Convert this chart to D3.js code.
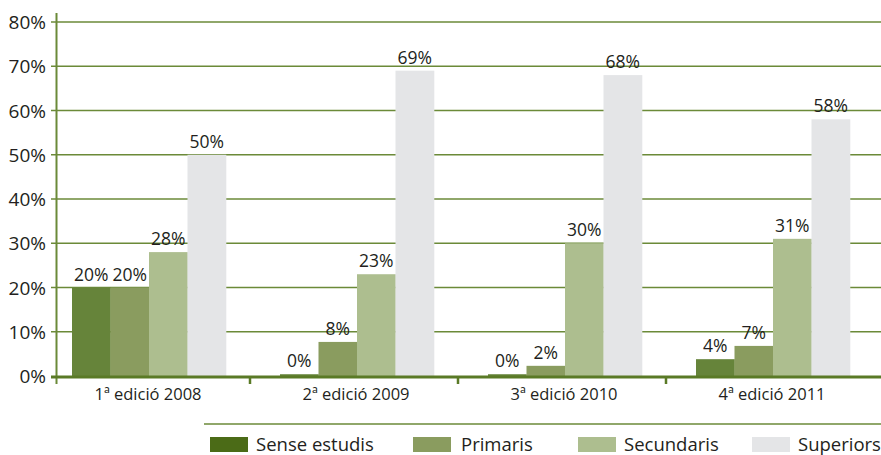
<!DOCTYPE html>
<html>
<head>
<meta charset="utf-8">
<script src="https://cdn.jsdelivr.net/npm/d3@7"></script>
<style>
  body { margin: 0; background: #fff; }
  text { font-family: "Open Sans", "Noto Sans", sans-serif; fill: #231f20; }
</style>
</head>
<body>
<div id="chart"></div>
<script>
var editions = ["1ª edició 2008", "2ª edició 2009", "3ª edició 2010", "4ª edició 2011"];
var series = ["Sense estudis", "Primaris", "Secundaris", "Superiors"];
var senseEstudis = [20, 0.4, 0.4, 3.8];
var primaris = [20, 7.7, 2.3, 6.8];
var secundaris = [28, 23, 30, 31];
var superiors = [50, 69, 68, 58];
var yTicks = [0, 10, 20, 30, 40, 50, 60, 70, 80];

var barColors = ["#66843a", "#8a9c5f", "#adbe8f", "#e4e5e7"];
var legendColors = ["#4b6b17", "#8a9c5f", "#adbe8f", "#e4e5e7"];
var green = "#6b8a38";

var W = 881, H = 455;
var axisX = 56, yBase = 376;

var rows = [senseEstudis, primaris, secundaris, superiors];

var svg = d3.select("#chart")
  .append("svg")
    .attr("width", W)
    .attr("height", H);

var x = d3.scaleBand()
  .domain(editions)
  .range([42, 874]);

var xs = d3.scaleBand()
  .domain(series)
  .range([30, 30 + 154]);

var y = d3.scaleLinear()
  .domain([0, 80])
  .range([yBase, 22]);

// gridlines
svg.append("g")
  .selectAll("line")
  .data(yTicks.filter(function(d) { return d > 0; }))
  .join("line")
    .attr("x1", 51)
    .attr("x2", W)
    .attr("y1", function(d) { return y(d); })
    .attr("y2", function(d) { return y(d); })
    .style("stroke", green)
    .style("stroke-width", 1.6);

// y labels
svg.append("g")
  .selectAll("text")
  .data(yTicks)
  .join("text")
    .attr("x", 46)
    .attr("y", function(d) { return y(d) + 7; })
    .attr("text-anchor", "end")
    .style("font-size", "19px")
    .text(function(d) { return d + "%"; });

// bars
var groups = svg.append("g")
  .selectAll("g")
  .data(editions)
  .join("g")
    .attr("transform", function(d) { return "translate(" + x(d) + ",0)"; });

groups.selectAll("rect")
  .data(function(d, i) {
    return series.map(function(s, j) { return {s: s, j: j, v: rows[j][i]}; });
  })
  .join("rect")
    .attr("x", function(d) { return xs(d.s); })
    .attr("width", xs.bandwidth() + 0.3)
    .attr("y", function(d) { return y(d.v); })
    .attr("height", function(d) { return yBase - y(d.v); })
    .style("fill", function(d) { return barColors[d.j]; });

groups.selectAll("text")
  .data(function(d, i) {
    return series.map(function(s, j) { return {s: s, j: j, v: rows[j][i]}; });
  })
  .join("text")
    .attr("x", function(d) { return xs(d.s) + xs.bandwidth() / 2; })
    .attr("y", function(d) { return y(d.v) - 7; })
    .attr("text-anchor", "middle")
    .style("font-size", "17.5px")
    .text(function(d) { return Math.round(d.v) + "%"; });

// axes
svg.append("line")
  .attr("x1", axisX + 0.5).attr("x2", axisX + 0.5)
  .attr("y1", 13).attr("y2", 384)
  .style("stroke", green)
  .style("stroke-width", 2);

svg.append("line")
  .attr("x1", 51).attr("x2", W)
  .attr("y1", yBase + 1).attr("y2", yBase + 1)
  .style("stroke", "#5a7a26")
  .style("stroke-width", 3);

svg.append("g")
  .selectAll("line")
  .data(editions.slice(1))
  .join("line")
    .attr("x1", function(d) { return x(d); })
    .attr("x2", function(d) { return x(d); })
    .attr("y1", yBase)
    .attr("y2", yBase + 8)
    .style("stroke", "#5a7a26")
    .style("stroke-width", 2.5);

svg.append("g")
  .selectAll("text")
  .data(editions)
  .join("text")
    .attr("x", function(d) { return x(d) + x.bandwidth() / 2 + 2; })
    .attr("y", 400)
    .attr("text-anchor", "middle")
    .style("font-size", "16.5px")
    .text(function(d) { return d; });

// legend
svg.append("line")
  .attr("x1", 204).attr("x2", W)
  .attr("y1", 424).attr("y2", 424)
  .style("stroke", green)
  .style("stroke-width", 1.6);

var legX = [210, 413, 578, 752];
var leg = svg.append("g")
  .selectAll("g")
  .data(series)
  .join("g")
    .attr("transform", function(d, i) { return "translate(" + legX[i] + ",437)"; });

leg.append("rect")
  .attr("width", 38)
  .attr("height", 15)
  .style("fill", function(d, i) { return legendColors[i]; });

leg.append("text")
  .attr("x", function(d, i) { return i == 1 ? 48 : 46; })
  .attr("y", 14)
  .style("font-size", "18.5px")
  .text(function(d) { return d; });
</script>
</body>
</html>
